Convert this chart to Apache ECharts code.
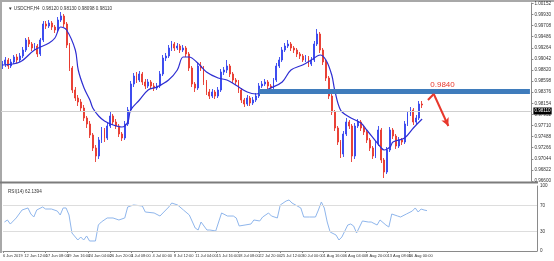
<!DOCTYPE html>
<html><head><meta charset="utf-8">
<script src="https://cdn.jsdelivr.net/npm/echarts@6/dist/echarts.min.js"></script>
<style>html,body{margin:0;padding:0;background:#fff}#c{width:554px;height:261px}</style>
</head><body><div id="c"></div>
<script>
// ---- data ----
const barSlots = 182; // bars shown incl. empty right shift area
const categories = Array.from({length: barSlots}, (_, i) => String(i));

const opens = [0.9890,0.9894,0.9902,0.9890,0.9898,0.9908,0.9902,0.9910,0.9922,0.9942,
0.9934,0.9926,0.9930,0.9914,0.9942,0.9974,0.9970,0.9976,0.9968,0.9962,
0.9982,0.9990,0.9974,0.9932,0.9886,0.9842,0.9826,0.9818,0.9806,0.9786,
0.9774,0.9752,0.9726,0.9710,0.9742,0.9762,0.9746,0.9770,0.9790,0.9778,
0.9770,0.9754,0.9746,0.9774,0.9802,0.9854,0.9870,0.9862,0.9874,0.9858,
0.9850,0.9858,0.9850,0.9846,0.9850,0.9874,0.9906,0.9910,0.9926,0.9934,
0.9926,0.9930,0.9922,0.9926,0.9914,0.9886,0.9854,0.9846,0.9890,0.9886,
0.9858,0.9838,0.9830,0.9838,0.9830,0.9842,0.9878,0.9882,0.9890,0.9874,
0.9862,0.9858,0.9842,0.9822,0.9814,0.9826,0.9816,0.9822,0.9830,0.9850,
0.9854,0.9858,0.9850,0.9846,0.9862,0.9890,0.9902,0.9922,0.9930,0.9934,
0.9926,0.9922,0.9914,0.9910,0.9902,0.9906,0.9894,0.9902,0.9934,0.9954,
0.9922,0.9898,0.9866,0.9830,0.9798,0.9766,0.9738,0.9714,0.9754,0.9778,
0.9770,0.9710,0.9770,0.9778,0.9766,0.9758,0.9742,0.9726,0.9710,0.9734,
0.9762,0.9702,0.9678,0.9722,0.9762,0.9750,0.9730,0.9742,0.9738,0.9774,
0.9794,0.9802,0.9778,0.9786,0.9814];

const closes = [0.9894,0.9902,0.9890,0.9898,0.9908,0.9902,0.9910,0.9922,0.9942,0.9934,
0.9926,0.9930,0.9914,0.9942,0.9974,0.9970,0.9976,0.9968,0.9962,0.9982,
0.9990,0.9974,0.9932,0.9886,0.9842,0.9826,0.9818,0.9806,0.9786,0.9774,
0.9752,0.9726,0.9710,0.9742,0.9762,0.9746,0.9770,0.9790,0.9778,0.9770,
0.9754,0.9746,0.9774,0.9802,0.9854,0.9870,0.9862,0.9874,0.9858,0.9850,
0.9858,0.9850,0.9846,0.9850,0.9874,0.9906,0.9910,0.9926,0.9934,0.9926,
0.9930,0.9922,0.9926,0.9914,0.9886,0.9854,0.9846,0.9890,0.9886,0.9858,
0.9838,0.9830,0.9838,0.9830,0.9842,0.9878,0.9882,0.9890,0.9874,0.9862,
0.9858,0.9842,0.9822,0.9814,0.9826,0.9816,0.9822,0.9830,0.9850,0.9854,
0.9858,0.9850,0.9846,0.9862,0.9890,0.9902,0.9922,0.9930,0.9934,0.9926,
0.9922,0.9914,0.9910,0.9902,0.9906,0.9894,0.9902,0.9934,0.9954,0.9922,
0.9898,0.9866,0.9830,0.9798,0.9766,0.9738,0.9714,0.9754,0.9778,0.9770,
0.9710,0.9770,0.9778,0.9766,0.9758,0.9742,0.9726,0.9710,0.9734,0.9762,
0.9702,0.9678,0.9722,0.9762,0.9750,0.9730,0.9742,0.9738,0.9774,0.9794,
0.9802,0.9778,0.9786,0.9814,0.9812];

const lows = [0.9884,0.9888,0.9884,0.9886,0.9894,0.9896,0.9898,0.9906,0.9918,0.9928,
0.9920,0.9922,0.9908,0.9910,0.9938,0.9964,0.9966,0.9962,0.9956,0.9958,
0.9978,0.9968,0.9926,0.9880,0.9836,0.9820,0.9810,0.9800,0.9780,0.9766,
0.9746,0.9720,0.9698,0.9704,0.9736,0.9738,0.9742,0.9766,0.9772,0.9764,
0.9748,0.9740,0.9742,0.9770,0.9798,0.9848,0.9856,0.9858,0.9852,0.9844,
0.9846,0.9844,0.9840,0.9842,0.9846,0.9870,0.9900,0.9906,0.9920,0.9920,
0.9922,0.9916,0.9918,0.9908,0.9880,0.9848,0.9838,0.9842,0.9880,0.9852,
0.9832,0.9824,0.9826,0.9824,0.9826,0.9838,0.9872,0.9876,0.9868,0.9856,
0.9852,0.9836,0.9816,0.9808,0.9810,0.9810,0.9812,0.9818,0.9826,0.9846,
0.9850,0.9844,0.9840,0.9842,0.9858,0.9886,0.9898,0.9918,0.9926,0.9920,
0.9916,0.9908,0.9904,0.9898,0.9898,0.9888,0.9890,0.9898,0.9930,0.9916,
0.9892,0.9860,0.9824,0.9792,0.9760,0.9732,0.9706,0.9708,0.9750,0.9764,
0.9698,0.9704,0.9766,0.9760,0.9752,0.9736,0.9720,0.9704,0.9706,0.9730,
0.9696,0.9666,0.9674,0.9718,0.9744,0.9724,0.9726,0.9732,0.9734,0.9770,
0.9790,0.9772,0.9774,0.9782,0.9806];

const highs = [0.9900,0.9908,0.9906,0.9904,0.9912,0.9914,0.9916,0.9928,0.9946,0.9948,
0.9938,0.9936,0.9934,0.9946,0.9980,0.9980,0.9982,0.9980,0.9972,0.9988,
0.9998,0.9994,0.9978,0.9936,0.9890,0.9848,0.9832,0.9824,0.9812,0.9790,
0.9780,0.9756,0.9732,0.9748,0.9768,0.9766,0.9776,0.9798,0.9794,0.9784,
0.9774,0.9758,0.9780,0.9808,0.9860,0.9876,0.9878,0.9880,0.9878,0.9864,
0.9864,0.9862,0.9856,0.9856,0.9880,0.9912,0.9916,0.9932,0.9940,0.9938,
0.9936,0.9934,0.9932,0.9930,0.9918,0.9890,0.9858,0.9896,0.9898,0.9890,
0.9862,0.9844,0.9844,0.9842,0.9848,0.9884,0.9888,0.9902,0.9894,0.9878,
0.9866,0.9862,0.9846,0.9826,0.9832,0.9830,0.9828,0.9836,0.9856,0.9860,
0.9864,0.9862,0.9854,0.9866,0.9896,0.9908,0.9928,0.9936,0.9942,0.9938,
0.9930,0.9926,0.9918,0.9914,0.9912,0.9910,0.9908,0.9940,0.9964,0.9958,
0.9926,0.9902,0.9870,0.9834,0.9802,0.9770,0.9742,0.9760,0.9786,0.9782,
0.9774,0.9776,0.9784,0.9782,0.9770,0.9762,0.9746,0.9730,0.9740,0.9770,
0.9766,0.9706,0.9728,0.9768,0.9766,0.9754,0.9748,0.9746,0.9780,0.9800,
0.9808,0.9806,0.9792,0.9820,0.9820];

// moving average, read at selected bars
const maIndex = [0,6,11,16,18,20,22,25,26,28,30,31,33,35,38,41,43,44,47,50,53,57,60,62,64,67,70,74,77,80,84,87,89,92,96,99,103,106,109,111,113,114,116,119,123,125,130,131,133,134,138,141,144];
const maValue = [0.9892,0.9898,0.9922,0.9936,0.9946,0.9968,0.9962,0.9922,0.9882,0.9846,0.9822,0.9806,0.9790,0.9780,0.9772,0.9768,0.9778,0.9802,0.9822,0.9842,0.9848,0.9862,0.9882,0.9908,0.9908,0.9896,0.9878,0.9866,0.9862,0.9852,0.9838,0.9834,0.9838,0.9846,0.9858,0.9882,0.9892,0.9902,0.9912,0.9902,0.9872,0.9842,0.9802,0.9788,0.9776,0.9762,0.9726,0.9722,0.9728,0.9738,0.9746,0.9766,0.9784];

// RSI(14), read at selected bars
const rsiIndex = [0,1,2,4,6,8,9,10,11,13,14,16,18,19,20,21,22,23,25,26,27,28,29,31,32,33,35,37,39,41,42,44,47,48,51,53,54,56,57,59,61,63,65,66,67,69,70,72,73,74,76,78,79,80,82,84,85,87,88,90,91,93,94,96,97,98,101,102,104,106,107,108,109,110,111,113,114,115,117,118,119,120,122,124,125,127,128,130,131,132,134,135,137,139,140,141,142,143,144];
const rsiValue = [44.6,47.7,41.5,50.8,63.1,66.2,56.9,52.3,63.1,67.7,64.6,64.6,61.5,55.4,66.2,66.2,55.4,27.7,16.9,21.5,16.9,23.1,15.4,15.4,40.0,44.6,50.8,50.8,47.7,50.8,67.7,70.8,69.2,60.0,58.5,53.8,58.5,67.7,73.8,70.8,63.1,55.4,35.4,32.3,44.6,32.3,32.3,30.8,44.6,58.5,53.8,53.8,50.8,38.5,40.0,41.5,47.7,46.2,52.3,58.5,53.8,50.8,70.8,76.9,78.5,73.8,66.2,52.3,52.3,52.3,63.1,75.4,66.2,44.6,29.2,24.6,16.9,21.5,40.0,41.5,38.5,27.7,46.2,44.6,44.6,40.0,47.7,40.0,36.9,56.9,53.8,52.3,56.9,61.5,66.2,60.0,64.6,63.1,62.1];

const dateLabels = ["6 Jun 2019","12 Jun 12:00","17 Jun 08:00","19 Jun 16:00","24 Jun 04:00","26 Jun 20:00","1 Jul 08:00","4 Jul 00:00","8 Jul 12:00","11 Jul 04:00","15 Jul 16:00","18 Jul 08:00","22 Jul 20:00","25 Jul 12:00","30 Jul 00:00","1 Aug 16:00","6 Aug 04:00","8 Aug 20:00","13 Aug 08:00","16 Aug 00:00"];
const dateSlots = 26;

const priceMin = 0.966, priceMax = 1.0016, priceStep = 0.00222;
const rsiLevels = [0, 30, 70, 100];
const bidPrice = 0.9811;
const bandLevel = 0.9840, bandStart = 88;
const arrowIdx = [146, 148, 153];
const arrowPrice = [0.9822, 0.9834, 0.9770];
const noteIdx = 151, notePrice = 0.9852;
const titleText = '\u25BC USDCHF,H4  0.98120 0.98130 0.98098 0.98110';
const rsiTitle = 'RSI(14) 62.1394';

// ---- chart ----
const candles = opens.map((o, i) => [o, closes[i], lows[i], highs[i]]);
const maData = maIndex.map((x, i) => [x, maValue[i]]);
const rsiData = rsiIndex.map((x, i) => [x, rsiValue[i]]);
const dateCats = dateLabels.concat(Array(dateSlots - dateLabels.length).fill(''));

const axisGray = '#8a8a8a';
const labelStyle = {fontSize: 4.6, color: '#333', fontFamily: 'Liberation Sans'};
const dateStyle = {fontSize: 4, color: '#333', fontFamily: '"Liberation Sans Narrow", "Liberation Sans"'};
const red = '#e8382c';

const chart = echarts.init(document.getElementById('c'), null, {renderer: 'canvas'});
chart.setOption({
  animation: false,
  backgroundColor: '#ffffff',
  title: [
    {text: titleText, left: 3, top: 1, textStyle: Object.assign({fontWeight: 'normal'}, labelStyle)},
    {text: rsiTitle, left: 3, top: 184, textStyle: Object.assign({fontWeight: 'normal'}, labelStyle)}
  ],
  grid: [
    {left: 1, top: 3, width: 536, height: 178},
    {left: 1, top: 186, width: 536, height: 65}
  ],
  xAxis: [
    {type: 'category', gridIndex: 0, data: categories, boundaryGap: true,
     axisLine: {show: false}, axisTick: {show: false}, axisLabel: {show: false}, splitLine: {show: false}},
    {type: 'category', gridIndex: 1, data: categories, boundaryGap: true,
     axisLine: {show: false}, axisTick: {show: false}, axisLabel: {show: false}, splitLine: {show: false}},
    {type: 'category', gridIndex: 1, data: dateCats, boundaryGap: false, position: 'bottom',
     axisLine: {show: true, lineStyle: {color: axisGray, width: 1}},
     axisTick: {show: true, length: 2, interval: (i, v) => v !== '', lineStyle: {color: axisGray}},
     axisLabel: Object.assign({show: true, interval: 0, align: 'left', margin: 3}, dateStyle),
     splitLine: {show: false}}
  ],
  yAxis: [
    {type: 'value', gridIndex: 0, position: 'right', min: priceMin, max: priceMax, interval: priceStep, scale: true,
     axisLine: {show: true, onZero: false, lineStyle: {color: axisGray}},
     axisTick: {show: true, length: 2, lineStyle: {color: axisGray}},
     axisLabel: Object.assign({show: true, margin: 3, formatter: v => {
        const k = (v - priceMin) / priceStep;
        return Math.abs(k - Math.round(k)) < 1e-3 ? v.toFixed(5) : '';
     }}, labelStyle),
     splitLine: {show: false}},
    {type: 'value', gridIndex: 1, position: 'right', min: 0, max: 100, interval: 10,
     axisLine: {show: true, onZero: false, lineStyle: {color: axisGray}},
     axisTick: {show: false},
     axisLabel: Object.assign({show: true, margin: 3, formatter: v => rsiLevels.includes(Math.round(v)) ? String(Math.round(v)) : ''}, labelStyle),
     splitLine: {show: false}}
  ],
  series: [
    {type: 'candlestick', xAxisIndex: 0, yAxisIndex: 0, data: candles, barWidth: 1.4,
     itemStyle: {color: '#3344ee', color0: red, borderColor: '#3344ee', borderColor0: red, borderWidth: 0.9},
     markLine: {silent: true, symbol: ['none', 'none'], animation: false, label: {show: false},
       data: [
         {yAxis: bidPrice, lineStyle: {color: '#cfcfcf', width: 1, type: 'solid'},
          label: {show: true, position: 'end', distance: 2, formatter: bidPrice.toFixed(5), color: '#fff',
                  backgroundColor: '#000', fontSize: 4.6, padding: [1, 1], fontFamily: 'Liberation Sans'}},
         [{coord: [bandStart, bandLevel], lineStyle: {color: '#3f7cbc', width: 5, type: 'solid'}},
          {coord: [barSlots - 1, bandLevel]}],
         [{coord: [arrowIdx[0], arrowPrice[0]], lineStyle: {color: red, width: 2, type: 'solid'}},
          {coord: [arrowIdx[1], arrowPrice[1]]}],
         [{coord: [arrowIdx[1], arrowPrice[1]], lineStyle: {color: red, width: 2, type: 'solid'}},
          {coord: [arrowIdx[2], arrowPrice[2]], symbol: 'arrow', symbolSize: [6, 8]}]
       ]},
     markPoint: {silent: true, symbol: 'circle', symbolSize: 1, itemStyle: {color: 'rgba(0,0,0,0)'},
       label: {show: true, position: 'inside', formatter: bandLevel.toFixed(4), color: red, fontSize: 8, fontFamily: 'Liberation Sans'},
       data: [{coord: [noteIdx, notePrice]}]}
    },
    {type: 'line', xAxisIndex: 0, yAxisIndex: 0, data: maData, smooth: 0.35, symbol: 'none',
     lineStyle: {color: '#2e2ed2', width: 1.2}, silent: true},
    {type: 'line', xAxisIndex: 1, yAxisIndex: 1, data: rsiData, symbol: 'none',
     lineStyle: {color: '#8fb6ec', width: 1}, silent: true,
     markLine: {silent: true, symbol: ['none', 'none'], label: {show: false},
       lineStyle: {color: '#dddddd', width: 1, type: 'solid'},
       data: [{yAxis: 70}, {yAxis: 30}]}}
  ],
  graphic: [
    {type: 'rect', shape: {x: 0, y: 0, width: 554, height: 2}, style: {fill: '#a8a8a8'}, silent: true},
    {type: 'rect', shape: {x: 0, y: 0, width: 2, height: 253}, style: {fill: '#a8a8a8'}, silent: true},
    {type: 'rect', shape: {x: 0, y: 181.5, width: 538, height: 2}, style: {fill: '#7c7c7c'}, silent: true}
  ]
});
</script></body></html>
